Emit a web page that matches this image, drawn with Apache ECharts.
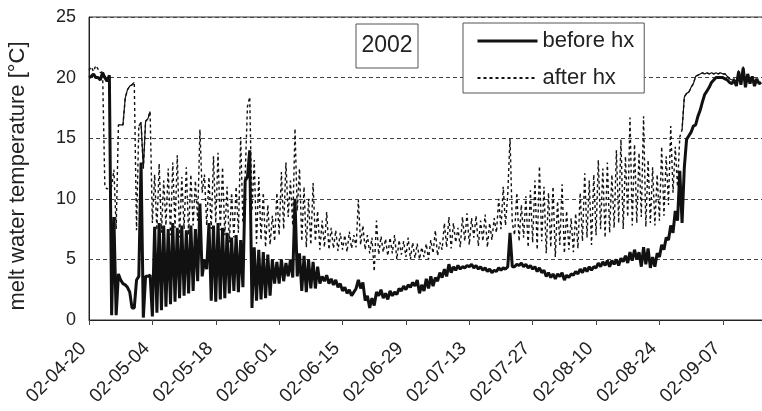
<!DOCTYPE html>
<html>
<head>
<meta charset="utf-8">
<script src="https://cdn.jsdelivr.net/npm/echarts@6/dist/echarts.min.js"></script>
<style>
html,body{margin:0;padding:0;background:#fff;}
#chart{width:762px;height:411px;}
</style>
</head>
<body>
<div id="chart"></div>
<script>
// x ticks every 14 days starting 2002-04-20
const tickLabels = ['02-04-20','02-05-04','02-05-18','02-06-01','02-06-15','02-06-29','02-07-13','02-07-27','02-08-10','02-08-24','02-09-07'];
const stepDays = 0.5; // one reading every 12 h, from 2002-04-20 00:00
const before = [
20.0,20.1, 20.3,20.0, 20.0,19.8, 20.4,20.0, 19.7,20.2,
0.4,8.5, 0.4,3.8, 3.3,3.0, 2.9,2.7, 2.3,1.0,
1.0,3.3, 3.6,13.0, 0.2,3.6, 3.6,3.7, 0.3,7.7,
0.6,8.0, 0.8,7.8, 1.1,7.5, 1.3,8.0, 1.5,7.6,
1.8,7.8, 2.0,7.4, 2.2,7.8, 2.4,7.5, 3.2,9.6,
3.6,5.0, 4.2,8.0, 1.6,7.8, 1.5,8.0, 1.7,7.6,
1.8,7.2, 2.2,6.8, 2.4,7.0, 2.3,6.6, 2.7,11.5,
11.8,14.0, 1.0,6.0, 1.6,5.8, 1.7,5.6, 1.8,5.4,
2.0,5.0, 3.0,4.8, 3.0,5.0, 3.2,4.7, 3.6,5.0,
3.5,10.0, 3.6,5.5, 2.4,5.3, 2.3,5.0, 2.6,4.8,
2.6,4.4, 3.0,3.6, 3.2,3.7, 3.0,3.4, 2.9,3.3,
2.7,3.0, 2.4,2.7, 2.2,2.5, 2.0,2.3, 2.6,3.3,
2.6,3.1, 1.6,2.0, 1.0,1.8, 1.2,2.3, 2.0,2.5,
1.8,2.2, 1.7,2.4, 2.0,2.3, 2.1,2.6, 2.4,2.8,
2.5,2.9, 2.7,3.1, 2.8,3.3, 2.2,2.9, 2.4,3.4,
2.6,3.6, 2.8,3.5, 3.2,3.9, 3.5,4.2, 3.6,4.6,
3.9,4.4, 4.1,4.5, 4.2,4.4, 4.3,4.5, 4.4,4.6,
4.3,4.5, 4.2,4.4, 4.1,4.3, 4.0,4.2, 3.9,4.1,
4.0,4.3, 4.1,4.3, 4.2,4.4, 7.2,4.4, 4.4,4.6,
4.5,4.7, 4.4,4.6, 4.3,4.5, 4.2,4.4, 4.0,4.3,
3.9,4.1, 3.6,3.9, 3.5,3.8, 3.4,3.8, 3.6,3.9,
3.3,3.7, 3.5,3.8, 3.7,4.0, 3.8,4.2, 3.9,4.3,
4.0,4.4, 4.1,4.4, 4.3,4.7, 4.4,4.8, 4.5,4.9,
4.4,4.9, 4.6,5.0, 4.5,5.1, 4.8,5.3, 4.7,5.6,
4.9,5.8, 5.0,5.6, 4.4,6.0, 4.6,5.9, 4.3,5.2,
4.4,5.5, 5.2,6.2, 5.8,6.8, 6.6,7.8, 7.2,9.0,
8.2,12.3, 8.0,12.6, 14.9,15.2, 15.5,16.0, 16.1,16.8,
17.3,18.0, 18.6,18.9, 19.2,19.6, 19.8,20.0, 20.0,20.0,
20.0,19.9, 19.8,19.6, 19.5,19.8, 19.3,20.5, 19.4,20.8,
19.2,20.3, 19.5,20.1, 19.3,19.9, 19.5,19.6
];
const after = [
20.6,20.9, 20.5,21.0, 20.7,20.4, 20.5,11.0, 10.8,11.0,
11.0,12.4, 7.5,16.1, 16.1,16.1, 18.3,19.0, 19.3,19.4,
19.6,7.4, 16.0,16.3, 12.5,16.4, 16.6,17.2, 8.0,12.0,
7.4,12.9, 7.2,11.5, 7.8,12.5, 7.0,13.0, 7.6,13.6,
6.8,11.8, 7.5,12.6, 7.0,12.0, 7.8,11.5, 8.2,15.7,
10.5,12.0, 7.8,11.8, 7.5,13.5, 8.0,13.8, 7.4,12.6,
7.0,11.0, 6.4,10.5, 6.8,11.0, 7.2,15.1, 8.0,12.0,
17.6,18.4, 9.0,13.2, 6.3,11.8, 6.6,10.5, 6.0,9.5,
6.2,8.6, 6.5,10.5, 7.0,12.2, 7.5,13.0, 8.5,11.5,
7.8,15.8, 9.0,12.5, 6.5,11.0, 6.0,10.0, 6.2,11.3,
6.5,9.0, 5.8,8.2, 6.0,8.9, 5.8,7.6, 5.9,7.4,
5.7,7.2, 5.8,7.0, 5.6,7.3, 5.9,7.0, 6.0,9.9,
6.2,7.8, 5.8,7.0, 5.5,6.8, 4.0,8.2, 5.4,6.9,
5.6,6.7, 5.3,6.8, 5.5,7.0, 5.0,6.6, 5.4,6.5,
5.2,6.8, 5.0,6.4, 5.1,6.3, 5.0,6.0, 5.2,6.3,
5.0,6.6, 5.5,7.4, 5.3,6.4, 5.8,8.0, 6.0,8.5,
5.9,8.0, 6.4,7.6, 6.0,8.5, 6.5,8.8, 6.2,8.4,
6.8,8.6, 6.1,8.2, 6.5,8.7, 6.0,8.0, 6.6,8.4,
7.2,10.0, 7.5,11.0, 7.8,10.4, 15.0,8.0, 7.0,10.5,
6.5,9.5, 6.8,10.2, 6.0,10.7, 6.4,11.5, 5.8,12.7,
6.5,11.0, 5.5,10.5, 6.0,11.0, 5.2,9.8, 6.2,11.2,
5.5,9.0, 5.8,8.4, 5.6,8.8, 5.9,10.5, 6.5,12.1,
6.8,11.5, 6.2,12.0, 7.0,13.2, 7.5,12.5, 6.8,13.0,
7.2,12.0, 7.6,14.0, 8.0,14.9, 7.5,13.5, 8.5,16.7,
7.8,14.5, 8.0,13.8, 8.5,16.8, 7.7,13.2, 8.0,12.6,
7.8,12.0, 8.2,14.3, 8.6,13.5, 9.5,16.0, 10.5,14.3,
11.0,15.1, 15.7,18.4, 18.7,18.8, 19.2,19.5, 20.1,20.2,
20.3,20.4, 20.3,20.4, 20.3,20.4, 20.3,20.4, 20.3,20.4,
20.3,20.3, 20.1,19.9, 19.8,19.9, 19.5,20.6, 19.6,20.9,
19.4,20.2, 19.6,20.0, 19.5,19.8, 19.6,19.5
];
// index ranges of the "after hx" record where the plotted line appears unbroken
const afterSolidSpans = [[13, 20], [22, 27], [262, 284]];
const yearLabel = '2002';

const FONT = 'Liberation Sans, Arial, Helvetica, sans-serif';
const toPairs = arr => arr.map((v, i) => [i * stepDays, v]);
const inSpan = i => afterSolidSpans.some(([a, b]) => i >= a && i <= b);
const afterSolid = after.map((v, i) => [i * stepDays, inSpan(i) ? v : null]);

const chart = echarts.init(document.getElementById('chart'), null, {renderer: 'canvas'});
chart.setOption({
  animation: false,
  backgroundColor: '#fff',
  grid: {
    left: 89, top: 17, right: -2, bottom: 91,
    show: true, borderColor: '#333', borderWidth: 1,
    outerBoundsMode: 'none'
  },
  legend: {
    data: [{name: 'before hx', lineStyle: {width: 3}}, {name: 'after hx'}],
    orient: 'vertical',
    left: 463, top: 23,
    itemWidth: 60, itemHeight: 14, itemGap: 15,
    padding: [7, 10, 4, 13],
    borderColor: '#555', borderWidth: 1,
    backgroundColor: '#fff',
    itemStyle: {opacity: 0},
    textStyle: {fontSize: 22, color: '#222', fontFamily: FONT}
  },
  xAxis: {
    type: 'value', min: 0, max: 149.1, interval: 14,
    axisLine: {show: true, lineStyle: {color: '#222', width: 1}},
    axisTick: {show: true, length: 5, lineStyle: {color: '#444'}},
    splitLine: {show: false},
    axisLabel: {
      rotate: 45, fontSize: 19, color: '#222', fontFamily: FONT, margin: 20,
      padding: [0, 8, 0, 0],
      showMaxLabel: false,
      formatter: v => tickLabels[Math.round(v / 14)] || ''
    }
  },
  yAxis: {
    type: 'value', min: 0, max: 25, interval: 5,
    name: 'melt water temperature [°C]',
    nameLocation: 'middle', nameGap: 60,
    nameTextStyle: {fontSize: 22, color: '#222', fontFamily: FONT, padding: [0, 15, 0, 0]},
    axisLine: {show: true, lineStyle: {color: '#222', width: 1}},
    axisTick: {show: false},
    axisLabel: {fontSize: 18, color: '#222', fontFamily: FONT, margin: 13},
    splitLine: {show: true, lineStyle: {color: '#444', width: 1, type: [4, 3]}}
  },
  graphic: [
    {type: 'rect', shape: {x: 356, y: 24, width: 62, height: 44},
     style: {fill: '#fff', stroke: '#555', lineWidth: 1}, z: 10},
    {type: 'text', x: 387, y: 46, z: 11,
     style: {text: yearLabel, fontSize: 23, fill: '#222', fontFamily: FONT, align: 'center', verticalAlign: 'middle'}}
  ],
  series: [
    {name: 'after hx', type: 'line', data: toPairs(after), symbol: 'none', z: 2,
     lineStyle: {color: '#111', width: 1.4, type: [3, 3]}, itemStyle: {color: '#111'}},
    {name: 'after hx', type: 'line', data: afterSolid, symbol: 'none', z: 2, connectNulls: false,
     lineStyle: {color: '#111', width: 1.2}, itemStyle: {color: '#111'}},
    {name: 'before hx', type: 'line', data: toPairs(before), symbol: 'none', z: 3,
     lineStyle: {color: '#111', width: 3}, itemStyle: {color: '#111'}}
  ]
});
</script>
</body>
</html>
